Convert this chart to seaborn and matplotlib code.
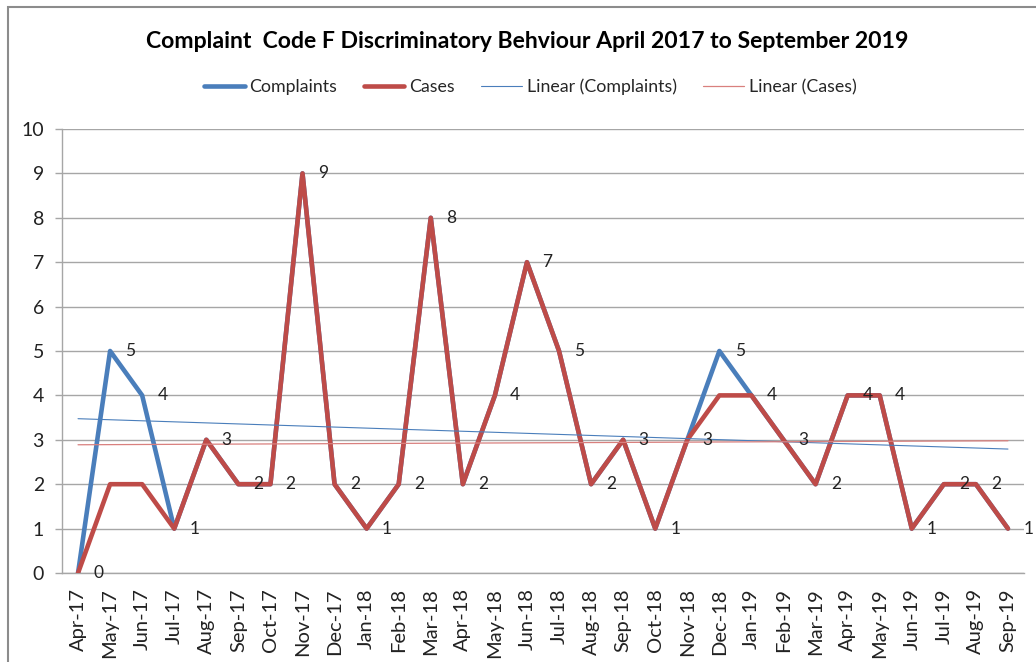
import numpy as np
import pandas as pd
import matplotlib
matplotlib.use("Agg")
import matplotlib.pyplot as plt
import seaborn as sns
from matplotlib.patches import Rectangle
from matplotlib.lines import Line2D

months = ["Apr-17", "May-17", "Jun-17", "Jul-17", "Aug-17", "Sep-17", "Oct-17", "Nov-17",
          "Dec-17", "Jan-18", "Feb-18", "Mar-18", "Apr-18", "May-18", "Jun-18", "Jul-18",
          "Aug-18", "Sep-18", "Oct-18", "Nov-18", "Dec-18", "Jan-19", "Feb-19", "Mar-19",
          "Apr-19", "May-19", "Jun-19", "Jul-19", "Aug-19", "Sep-19"]
complaints = [0, 5, 4, 1, 3, 2, 2, 9, 2, 1, 2, 8, 2, 4, 7, 5, 2, 3, 1, 3, 5, 4, 3, 2, 4, 4, 1, 2, 2, 1]
cases = [0, 2, 2, 1, 3, 2, 2, 9, 2, 1, 2, 8, 2, 4, 7, 5, 2, 3, 1, 3, 4, 4, 3, 2, 4, 4, 1, 2, 2, 1]
y_ticks = list(range(0, 11))
title = "Complaint  Code F Discriminatory Behviour April 2017 to September 2019"
series_names = ["Complaints", "Cases", "Linear (Complaints)", "Linear (Cases)"]

BLUE = "#4A7EBB"
RED = "#BE4B48"
RED_T = "#D9807E"
GRID = "#A6A6A6"

sns.set_theme(style="white")
plt.rcParams["font.family"] = ["Lato", "DejaVu Sans"]

W, H = 1036, 662
fig = plt.figure(figsize=(W / 100, H / 100), dpi=100)
fig.patch.set_facecolor("white")
ax = fig.add_axes([62 / W, 1 - 573 / H, (1024 - 62) / W, (573 - 129) / H])

idx = np.arange(len(months))
df = pd.DataFrame({"idx": idx, "Complaints": complaints, "Cases": cases})

sns.lineplot(data=df, x="idx", y="Complaints", color=BLUE, lw=3.3, ax=ax, zorder=3)
sns.lineplot(data=df, x="idx", y="Cases", color=RED, lw=3.3, ax=ax, zorder=4)
sns.regplot(data=df, x="idx", y="Complaints", scatter=False, ci=None, truncate=True,
            line_kws=dict(color=BLUE, lw=0.8, zorder=5), ax=ax)
sns.regplot(data=df, x="idx", y="Cases", scatter=False, ci=None, truncate=True,
            line_kws=dict(color=RED_T, lw=0.9, zorder=5), ax=ax)

for i, v in zip(idx, complaints):
    ax.annotate(str(v), (i, v), xytext=(11, 0), textcoords="offset points",
                ha="left", va="center", fontsize=12.5, color="#222222", zorder=6)

ax.set_xlim(-0.5, len(months) - 0.5)
ax.set_ylim(0, 10)
ax.set_yticks(y_ticks)
ax.set_yticklabels([str(t) for t in y_ticks], fontsize=14, color="#222222")
ax.set_xticks(idx)
ax.set_xticklabels(months, rotation=90, fontsize=14.5, color="#222222")
ax.set_xticks(np.arange(len(months) + 1) - 0.5, minor=True)
ax.tick_params(axis="x", which="major", length=0, pad=11)
ax.tick_params(axis="x", which="minor", length=5, width=1, color=GRID, direction="out")
ax.tick_params(axis="y", which="major", length=5, width=1, color=GRID, direction="out", pad=8, left=True)
ax.set_xlabel("")
ax.set_ylabel("")
ax.yaxis.grid(True, color=GRID, lw=1)
ax.xaxis.grid(False)
ax.set_axisbelow(True)
for s in ["top", "right"]:
    ax.spines[s].set_visible(False)
for s in ["left", "bottom"]:
    ax.spines[s].set_color(GRID)
    ax.spines[s].set_linewidth(1)

fig.text(527.5 / W, 1 - 41 / H, title, ha="center", va="center",
         fontsize=16.6, fontweight="bold", color="black")

handles = [Line2D([], [], color=BLUE, lw=3.3),
           Line2D([], [], color=RED, lw=3.3),
           Line2D([], [], color=BLUE, lw=0.8),
           Line2D([], [], color=RED_T, lw=0.9)]
fig.legend(handles, series_names, loc="center", bbox_to_anchor=(530 / W, 1 - 87 / H),
           ncol=4, frameon=False, fontsize=12.8, handlelength=2.3, handletextpad=0.25,
           columnspacing=1.5)

fig.add_artist(Rectangle((8 / W, -0.1), 1.2, 1 - 7 / H + 0.1, transform=fig.transFigure,
                         fill=False, ec="#8C8C8C", lw=1.5))

fig.savefig("out.png", dpi=100)
